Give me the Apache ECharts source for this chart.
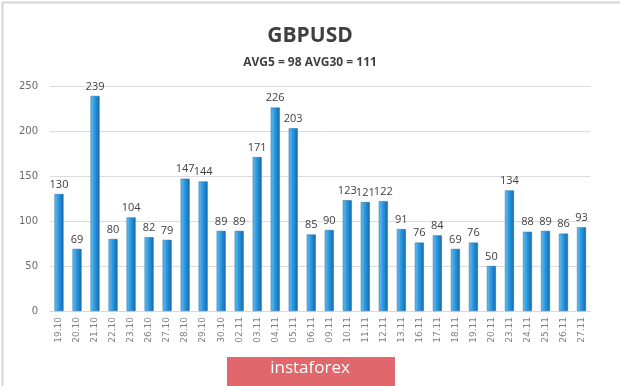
<!DOCTYPE html>
<html><head><meta charset="utf-8">
<script src="https://cdn.jsdelivr.net/npm/echarts@6/dist/echarts.min.js"></script>
<style>html,body{margin:0;padding:0;background:#fff}#c{width:620px;height:386px}</style>
</head><body><div id="c"></div>
<script>
const categories = ["19.10","20.10","21.10","22.10","23.10","26.10","27.10","28.10","29.10","30.10","02.11","03.11","04.11","05.11","06.11","09.11","10.11","11.11","12.11","13.11","16.11","17.11","18.11","19.11","20.11","23.11","24.11","25.11","26.11","27.11"];
const values = [130,69,239,80,104,82,79,147,144,89,89,171,226,203,85,90,123,121,122,91,76,84,69,76,50,134,88,89,86,93];
const yTicks = [0,50,100,150,200,250];
const chart = echarts.init(document.getElementById('c'), null, {renderer:'canvas'});
chart.setOption({
  backgroundColor:'#fff',
  animation:false,
  title:[
    {text:'GBPUSD', left:'center', top:21, textStyle:{fontFamily:'Open Sans', fontSize:21, fontWeight:'bold', color:'#3f3f3f'}},
    {text:'AVG5 = 98 AVG30 = 111', left:'center', top:52, textStyle:{fontFamily:'Open Sans', fontSize:12, fontWeight:'bold', color:'#3f3f3f'}}
  ],
  grid:{left:50, right:29.5, top:86, bottom:75, containLabel:false},
  xAxis:{type:'category', data:categories,
    axisLine:{show:true, lineStyle:{color:'#d9d9d9', width:1}},
    axisTick:{show:false},
    axisLabel:{rotate:90, fontSize:9, color:'#808080', fontFamily:'DejaVu Sans', margin:6}
  },
  yAxis:{type:'value', min:yTicks[0], max:yTicks[yTicks.length-1], interval:50,
    axisLine:{show:false}, axisTick:{show:false},
    axisLabel:{fontSize:10, color:'#6a6a6a', fontFamily:'DejaVu Sans', margin:12},
    splitLine:{lineStyle:{color:'#dcdcdc', width:1}}
  },
  series:[{type:'bar', data:values, barWidth:9,
    itemStyle:{color:new echarts.graphic.LinearGradient(0,0,1,0,[
      {offset:0,color:'#6cc0f0'},{offset:0.45,color:'#2a98e0'},{offset:1,color:'#1768ad'}]),
      borderColor:'#1a6aa8', borderWidth:0.5},
    label:{show:true, position:'top', distance:4, fontSize:11, color:'#404040', fontFamily:'Open Sans'}
  }],
  graphic:[
    {type:'rect', left:0, top:0, shape:{width:619, height:385}, style:{fill:'none', stroke:'#d6d6d6', lineWidth:2}, silent:true},
    {type:'rect', left:227, top:357, shape:{width:168, height:29}, style:{fill:'#e0676b'}},
    {type:'text', left:'center', top:360, style:{text:'instaforex', fill:'#fff', fontSize:17, fontFamily:'Open Sans'}}
  ]
});
</script></body></html>
